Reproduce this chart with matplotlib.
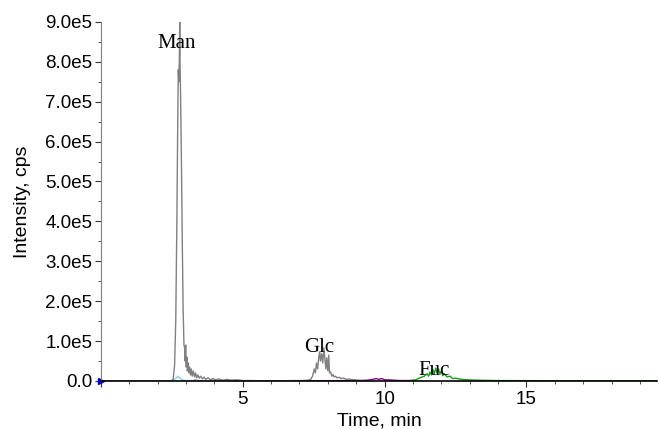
import matplotlib
matplotlib.use("Agg")
import matplotlib.pyplot as plt
from matplotlib.ticker import MultipleLocator, FuncFormatter

# ---- data (intensity in units of 1e5 cps) ----
gray_t = [0.0, 2.40, 2.50, 2.55, 2.60, 2.64, 2.68, 2.71, 2.73, 2.75, 2.77, 2.78, 2.79,
          2.81, 2.84, 2.87, 2.90, 2.93, 2.95, 2.97, 2.99, 3.01, 3.03, 3.05, 3.08,
          3.10, 3.13, 3.16, 3.19, 3.22, 3.26, 3.30, 3.34, 3.38, 3.42, 3.47, 3.52,
          3.58, 3.64, 3.70, 3.78, 3.86, 3.95, 4.05, 4.15, 4.30, 4.45, 4.60, 4.80,
          5.00, 5.30, 5.60, 6.00, 6.40, 6.80, 7.10, 7.30, 7.40, 7.46, 7.52, 7.56,
          7.60, 7.64, 7.68, 7.71, 7.74, 7.78, 7.82, 7.86, 7.89, 7.93, 7.96, 8.00,
          8.03, 8.06, 8.10, 8.14, 8.18, 8.22, 8.27, 8.32, 8.40, 8.48, 8.56, 8.65,
          8.75, 8.85, 8.95, 9.05, 9.15, 9.25]
gray_i = [0.0, 0.0, 0.0, 0.05, 0.4, 1.5, 4.0, 6.5, 7.8, 7.5, 8.2, 9.0, 8.0,
          7.2, 5.5, 3.5, 1.8, 0.9, 0.85, 0.5, 0.9, 0.35, 0.6, 0.25, 0.45,
          0.2, 0.35, 0.15, 0.3, 0.12, 0.25, 0.1, 0.2, 0.08, 0.15, 0.07, 0.12,
          0.05, 0.1, 0.04, 0.08, 0.03, 0.06, 0.03, 0.05, 0.02, 0.04, 0.02, 0.03,
          0.01, 0.01, 0.005, 0.005, 0.005, 0.01, 0.01, 0.02, 0.04, 0.12, 0.3, 0.2,
          0.45, 0.3, 0.6, 0.72, 0.5, 0.68, 0.45, 0.83, 0.6, 0.3, 0.58, 0.25,
          0.65, 0.2, 0.22, 0.12, 0.16, 0.1, 0.12, 0.08, 0.09, 0.06, 0.07, 0.04,
          0.05, 0.03, 0.03, 0.02, 0.015, 0.01]

blue_t = [2.40, 2.55, 2.65, 2.72, 2.80, 2.90, 3.00, 3.20, 3.50, 4.00, 4.40]
blue_i = [0.0, 0.02, 0.07, 0.12, 0.06, 0.02, 0.01, 0.01, 0.005, 0.005, 0.0]

purple_t = [3.20, 3.30, 3.45, 3.60, 3.90, 4.05, 4.20, 9.20, 9.40, 9.60, 9.70,
            9.80, 9.90, 10.00, 10.20, 10.40, 10.60, 10.80, 11.00]
purple_i = [0.0, 0.015, 0.01, 0.0, 0.01, 0.02, 0.0, 0.01, 0.02, 0.04, 0.06,
            0.04, 0.06, 0.03, 0.025, 0.015, 0.01, 0.01, 0.01]

green_t = [10.90, 11.10, 11.25, 11.40, 11.50, 11.55, 11.60, 11.65, 11.70, 11.75,
           11.80, 11.85, 11.90, 11.95, 12.00, 12.05, 12.10, 12.20, 12.30, 12.40,
           12.50, 12.70, 12.90, 13.20, 13.60, 14.00, 15.00, 16.00, 17.00, 18.00,
           19.00, 19.60]
green_i = [0.01, 0.03, 0.08, 0.12, 0.18, 0.12, 0.22, 0.15, 0.28, 0.18,
           0.32, 0.2, 0.3, 0.17, 0.25, 0.13, 0.18, 0.1, 0.12, 0.06,
           0.07, 0.04, 0.03, 0.02, 0.015, 0.01, 0.008, 0.006, 0.006, 0.005,
           0.005, 0.005]

labels = ["Man", "Glc", "Fuc"]
label_t = [2.68, 7.68, 11.76]
label_i = [8.35, 0.72, 0.15]

SCALE = 1e5

fig = plt.figure(figsize=(6.59, 4.29), dpi=100)
ax = fig.add_axes([0.153, 0.112, 0.844, 0.837])

ax.plot(purple_t, [v * SCALE for v in purple_i], color="#8b008b", lw=1.0)
ax.plot(green_t, [v * SCALE for v in green_i], color="#1a9a1a", lw=1.0)
ax.plot(blue_t, [v * SCALE for v in blue_i], color="#8ecbf5", lw=1.0)
ax.plot(gray_t, [v * SCALE for v in gray_i], color="#808080", lw=1.0)

for lab, t, v in zip(labels, label_t, label_i):
    ax.text(t, v * SCALE, lab, family="Liberation Serif", fontsize=15,
            ha="center", va="baseline")

ax.plot([0], [0], marker=">", color="#0000cc", markersize=5, clip_on=False)

ax.set_xlim(0, 19.6)
ax.set_ylim(0, 9.0e5)
ax.xaxis.set_major_locator(MultipleLocator(5))
ax.xaxis.set_minor_locator(MultipleLocator(1))
ax.yaxis.set_major_locator(MultipleLocator(1e5))
ax.yaxis.set_minor_locator(MultipleLocator(0.5e5))

def yfmt(v, pos):
    if abs(v) < 1:
        return "0.0"
    return f"{v / 1e5:.1f}e5"

ax.yaxis.set_major_formatter(FuncFormatter(yfmt))
ax.xaxis.set_major_formatter(FuncFormatter(lambda v, p: "" if v == 0 else f"{v:.0f}"))

for s in ("top", "right"):
    ax.spines[s].set_visible(False)
ax.spines["left"].set_color("#808080")
ax.spines["bottom"].set_color("black")
ax.spines["bottom"].set_linewidth(1.2)

ax.tick_params(axis="both", which="major", labelsize=13.5, length=4,
               labelfontfamily="Liberation Sans", color="#333333")
ax.tick_params(axis="both", which="minor", length=2.5, color="#333333")
ax.tick_params(axis="y", pad=2)

ax.set_xlabel("Time, min", fontsize=14, family="Liberation Sans", labelpad=3)
ax.set_ylabel("Intensity, cps", fontsize=14, family="Liberation Sans", labelpad=10)

fig.savefig("out.png", dpi=100)
